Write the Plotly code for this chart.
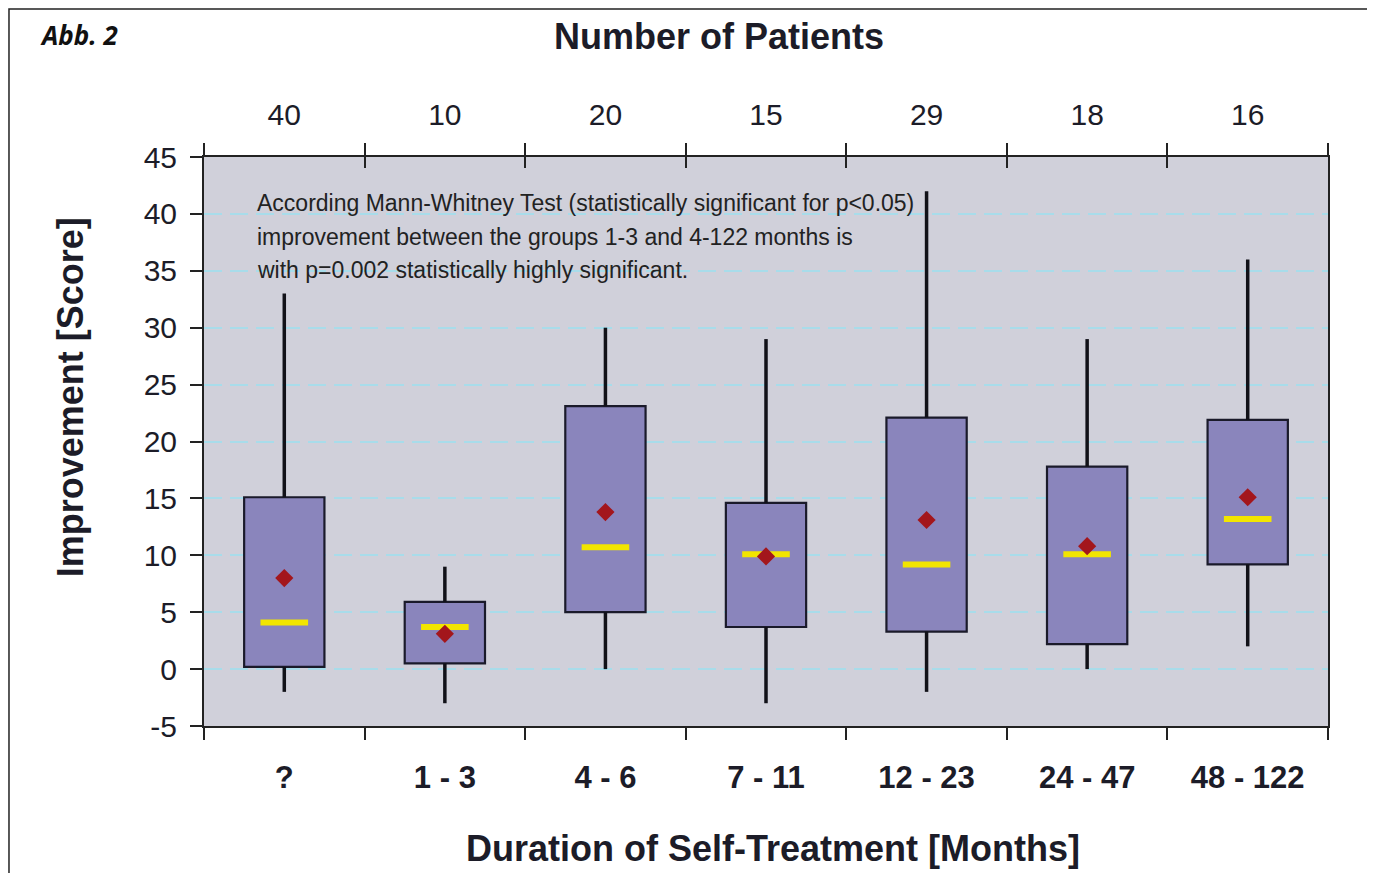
import plotly.graph_objects as go

categories = ["?", "1 - 3", "4 - 6", "7 - 11", "12 - 23", "24 - 47", "48 - 122"]
patients = [40, 10, 20, 15, 29, 18, 16]
q1 = [0.2, 0.5, 5.0, 3.7, 3.3, 2.2, 9.2]
q3 = [15.1, 5.9, 23.1, 14.6, 22.1, 17.8, 21.9]
lower = [-2, -3, 0, -3, -2, 0, 2]
upper = [33, 9, 30, 29, 42, 29, 36]
median = [4.1, 3.7, 10.7, 10.1, 9.2, 10.1, 13.2]
mean = [8.0, 3.1, 13.8, 9.9, 13.1, 10.8, 15.1]
y_ticks = [-5, 0, 5, 10, 15, 20, 25, 30, 35, 40, 45]
note_lines = [
    "According Mann-Whitney Test (statistically significant for p<0.05)",
    "improvement between the groups 1-3 and 4-122 months is",
    "with p=0.002 statistically highly significant.",
]

FONT = "Liberation Sans, Arial, sans-serif"
TXT = "#1c1c28"

fig = go.Figure()

# whiskers
wx, wy = [], []
for c, a, b, lo, hi in zip(categories, q1, q3, lower, upper):
    wx += [c, c, None, c, c, None]
    wy += [b, hi, None, a, lo, None]
fig.add_trace(go.Scatter(x=wx, y=wy, mode="lines", line=dict(color="#111118", width=3.5),
                         hoverinfo="skip", showlegend=False))

# boxes
fig.add_trace(go.Bar(x=categories, y=[b - a for a, b in zip(q1, q3)], base=q1, width=0.5,
                     marker=dict(color="#8a85bc", line=dict(color="#1a1a2a", width=2.2)),
                     showlegend=False))

# medians
fig.add_trace(go.Scatter(x=categories, y=median, mode="markers",
                         marker=dict(symbol="line-ew", size=34, line=dict(color="#f2e500", width=6)),
                         showlegend=False))
# means
fig.add_trace(go.Scatter(x=categories, y=mean, mode="markers",
                         marker=dict(symbol="diamond", size=14, color="#a3161c", line=dict(width=0)),
                         showlegend=False))

fig.update_layout(
    width=1367, height=865,
    margin=dict(l=196, r=47, t=149, b=147),
    paper_bgcolor="white", plot_bgcolor="#d0d0da",
    font=dict(family=FONT, color=TXT),
    bargap=0.5,
    xaxis=dict(type="category", categoryorder="array", categoryarray=categories,
               range=[-0.5, 6.5], tickson="boundaries", ticks="outside", ticklen=12,
               tickwidth=2, tickcolor="#222", showline=True, linecolor="#222", linewidth=2,
               showgrid=False, ticklabelstandoff=23,
               tickfont=dict(size=31, family=FONT, color=TXT, weight="bold")),
    xaxis2=dict(matches="x", overlaying="x", side="top", anchor="y",
                tickmode="array", tickvals=categories, ticktext=[str(p) for p in patients],
                tickson="boundaries", ticks="outside", ticklen=12, tickwidth=2, tickcolor="#222",
                showline=True, linecolor="#222", linewidth=2, showgrid=False,
                ticklabelstandoff=18,
                tickfont=dict(size=30, family=FONT, color=TXT)),
    xaxis3=dict(matches="x", overlaying="x", side="top", anchor="y",
                tickson="boundaries", ticks="inside", ticklen=11, tickwidth=2, tickcolor="#222",
                showticklabels=False, showline=False, showgrid=False),
    yaxis=dict(range=[-5, 45], tickmode="array", tickvals=y_ticks,
               ticktext=[str(v) for v in y_ticks], ticks="outside", ticklen=12, tickwidth=2,
               tickcolor="#222", showline=True, linecolor="#222", linewidth=2, mirror=True,
               showgrid=True, gridcolor="#a8dcea", gridwidth=2, griddash="18px,8px",
               zeroline=False, ticklabelstandoff=7,
               tickfont=dict(size=30, family=FONT, color=TXT)),
)

# invisible traces so the extra top axes render
fig.add_trace(go.Scatter(x=categories, y=[None] * len(categories), xaxis="x2",
                         showlegend=False, hoverinfo="skip"))
fig.add_trace(go.Scatter(x=categories, y=[None] * len(categories), xaxis="x3",
                         showlegend=False, hoverinfo="skip"))

# axis titles placed as in the original (slightly off-centre)
fig.add_annotation(
    xref="paper", yref="paper", x=0.458, y=1.2109, xanchor="center", yanchor="middle",
    showarrow=False, text="<b>Number of Patients</b>",
    font=dict(family=FONT, size=36, color=TXT),
)
fig.add_annotation(
    xref="paper", yref="paper", x=0.506, y=-0.2161, xanchor="center", yanchor="middle",
    showarrow=False, text="<b>Duration of Self-Treatment [Months]</b>",
    font=dict(family=FONT, size=36, color=TXT),
)
fig.add_annotation(
    xref="paper", yref="paper", x=-0.119, y=0.578, xanchor="center", yanchor="middle",
    textangle=-90, showarrow=False, text="<b>Improvement [Score]</b>",
    font=dict(family=FONT, size=36, color=TXT),
)

# statistical note, one line per annotation for the original line spacing
for line, yv in zip(note_lines, [40.96, 37.96, 35.06]):
    fig.add_annotation(
        xref="paper", yref="y", x=0.045, y=yv, xanchor="left", yanchor="middle",
        align="left", showarrow=False, text=line,
        font=dict(family=FONT, size=23, color="#222"),
    )

fig.add_annotation(
    xref="paper", yref="paper", x=-0.148, y=1.2144, xanchor="left", yanchor="middle",
    showarrow=False, text="<b><i>Abb. 2</i></b>",
    font=dict(family="Open Sans, Liberation Sans, sans-serif", size=26, color="#111"),
)

fig.add_shape(type="rect", xref="paper", yref="paper",
              x0=-0.1735, x1=1.0374, y0=-0.3, y1=1.2601,
              line=dict(color="#222", width=1.5), fillcolor="rgba(0,0,0,0)", layer="above")

fig.write_html("out.html")
